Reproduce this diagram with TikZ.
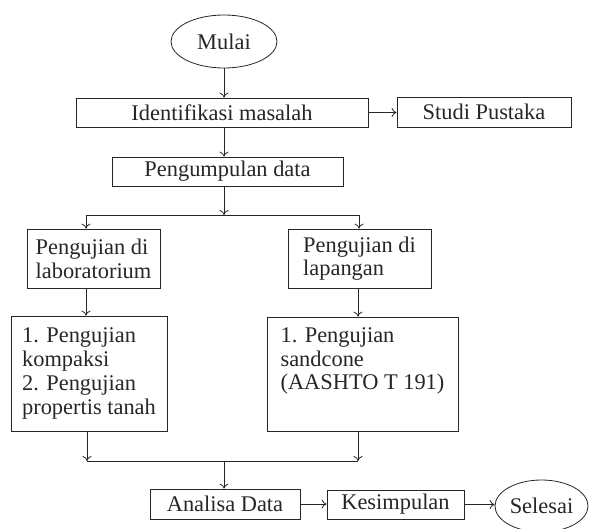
\documentclass[tikz,border=0pt]{standalone}
\usepackage{fontspec}
\setmainfont{Liberation Serif}
\usepackage{tikz}
\usetikzlibrary{shapes.geometric,arrows.meta}

\begin{document}
\begin{tikzpicture}[x=1pt,y=-1pt,line width=0.8pt,black!85,
  >={To[length=5pt,width=9pt]},
  box/.style={draw,rectangle,inner sep=0pt,align=left,
    font=\fontsize{22.4}{23.7}\selectfont},
  oval/.style={draw,ellipse,inner sep=0pt,
    font=\fontsize{22.4}{23.7}\selectfont}]
  \useasboundingbox (0,0) rectangle (589,528);

  \node [oval,minimum width=106pt,minimum height=53pt] (mulai) at (224,41.5) {Mulai};
  \node [box,minimum width=292pt,minimum height=29pt] (identifikasi) at (222,112.5) {Identifikasi masalah};
  \node [box,minimum width=174pt,minimum height=30pt] (studi) at (484,112) {Studi Pustaka};
  \node [box,minimum width=231pt,minimum height=29pt] (pengumpulan) at (227.5,171.5) {Pengumpulan data};

  \node [box,minimum width=133pt,minimum height=59pt] (lab) at (93.5,258.5) {Pengujian di\\laboratorium};
  \node [box,minimum width=143pt,minimum height=59pt] (lap) at (359.5,258.5) {Pengujian di\\lapangan};
  \node [box,minimum width=156pt,minimum height=115pt] (labuji) at (89,373.5)
    {1. Pengujian\\kompaksi\\2. Pengujian\\propertis tanah};
  \node [box,minimum width=191pt,minimum height=114pt] (lapuji) at (362.5,374)
    {1. Pengujian\\sandcone\\(AASHTO T 191)\\\strut};

  \node [box,minimum width=150pt,minimum height=30pt] (analisa) at (225,504) {Analisa Data};
  \node [box,minimum width=137pt,minimum height=29pt] (simpulan) at (395.5,504.5) {Kesimpulan};
  \node [oval,minimum width=93pt,minimum height=52pt] (selesai) at (541.5,506) {Selesai};

  \coordinate (cabang) at (224,215);
  \coordinate (cabangkiri) at (86,215);
  \coordinate (cabangkanan) at (359,215);
  \coordinate (gabung) at (224,461);
  \coordinate (gabungkiri) at (87,461);
  \coordinate (gabungkanan) at (358,461);

  \draw [->] (mulai.south -| cabang) -- (cabang |- identifikasi.north);
  \draw [->] (identifikasi.east) -- (identifikasi.east -| studi.west);
  \draw [->] (identifikasi.south -| cabang) -- (cabang |- pengumpulan.north);
  \draw [->] (pengumpulan.south -| cabang) -- (cabang);
  \draw (cabangkiri) -- (cabangkanan);
  \draw [->] (cabangkiri) -- (cabangkiri |- lab.north);
  \draw [->] (cabangkanan) -- (cabangkanan |- lap.north);
  \draw [->] (lab.south -| cabangkiri) -- (cabangkiri |- labuji.north);
  \draw [->] (lap.south -| gabungkanan) -- (gabungkanan |- lapuji.north);
  \draw [->] (labuji.south -| gabungkiri) -- (gabungkiri);
  \draw [->] (lapuji.south -| gabungkanan) -- (gabungkanan);
  \draw (gabungkiri) -- (gabungkanan);
  \draw [->] (gabung) -- (gabung |- analisa.north);
  \draw [->] (analisa.east) -- (analisa.east -| simpulan.west);
  \draw [->] (simpulan.east) -- (simpulan.east -| selesai.west);
\end{tikzpicture}
\end{document}
